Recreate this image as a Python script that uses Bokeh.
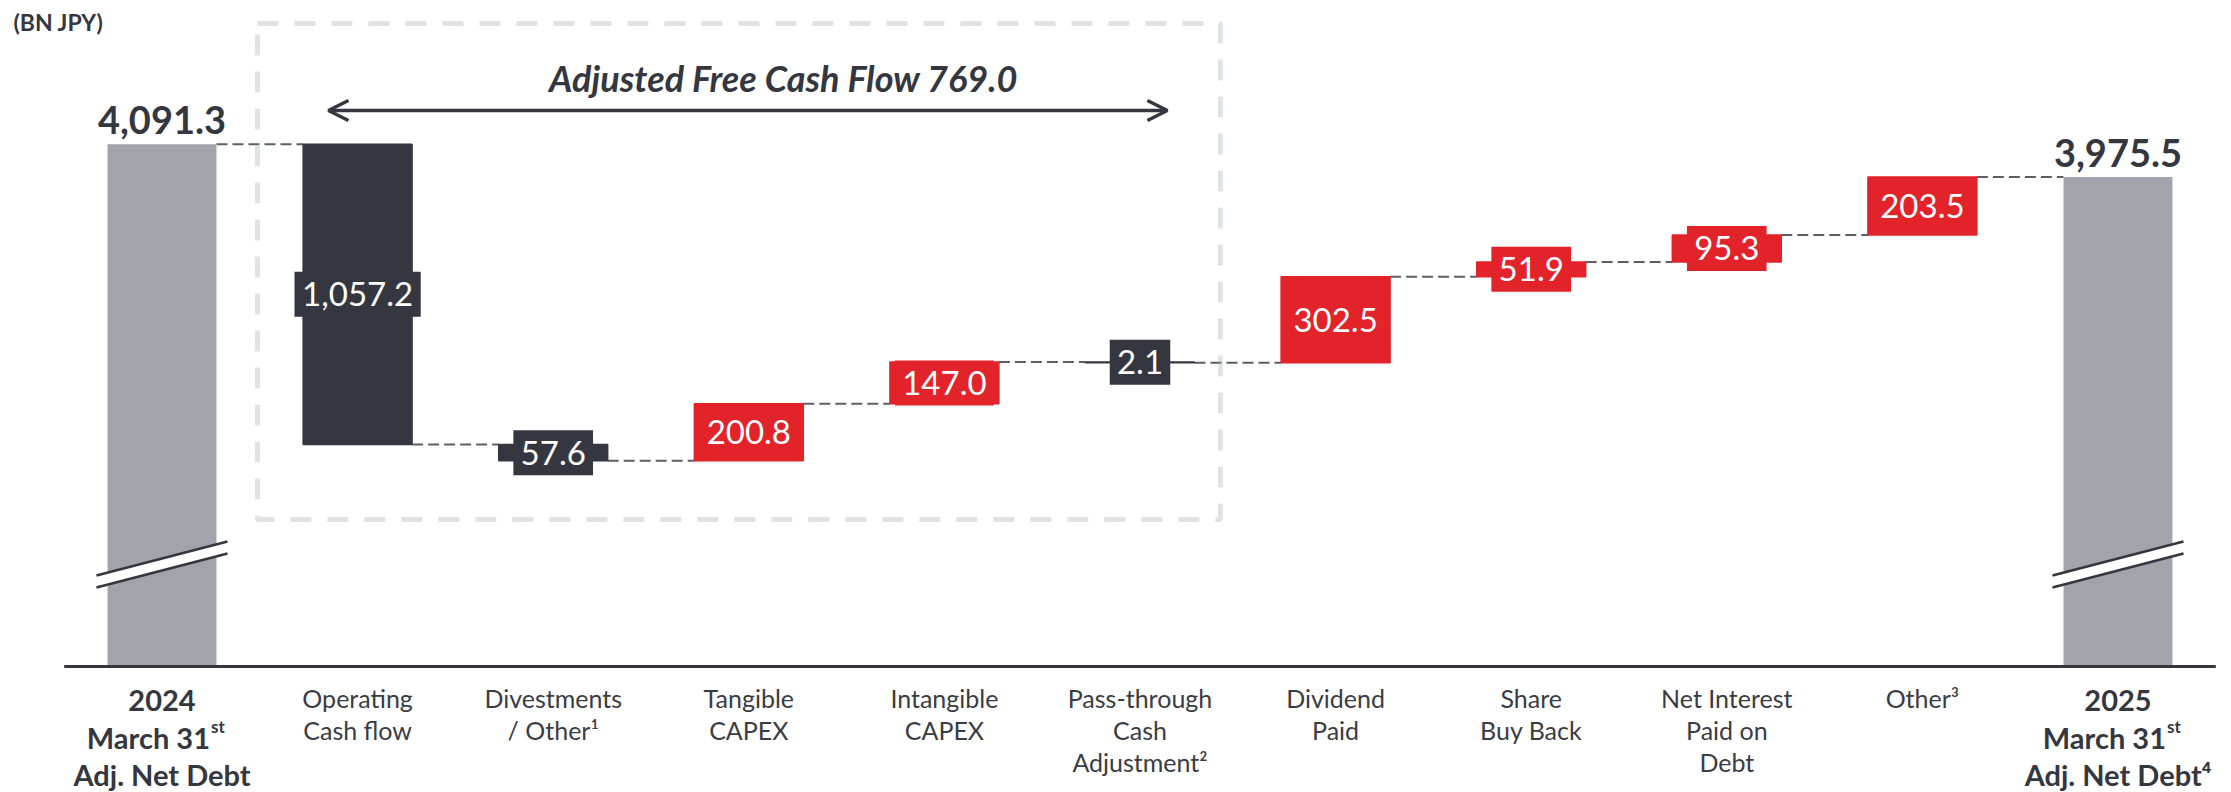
from bokeh.plotting import figure
from bokeh.models import Range1d, Label, BoxAnnotation, Arrow, OpenHead, ColumnDataSource
from bokeh.embed import file_html
from bokeh.resources import INLINE
from bokeh.core.properties import value

# ---------------- data ----------------
unit_label = "(BN JPY)"
start_label_lines = ["2024", "March 31", "Adj. Net Debt"]
end_label_lines = ["2025", "March 31", "Adj. Net Debt\u2074"]
date_suffix = "st"
step_names = [
    ["Operating", "Cash flow"],
    ["Divestments", "/ Other\u00b9"],
    ["Tangible", "CAPEX"],
    ["Intangible", "CAPEX"],
    ["Pass-through", "Cash", "Adjustment\u00b2"],
    ["Dividend", "Paid"],
    ["Share", "Buy Back"],
    ["Net Interest", "Paid on", "Debt"],
    ["Other\u00b3"],
]
start_value = 4091.3
end_value = 3975.5
step_values = [-1057.2, -57.6, 200.8, 147.0, -2.1, 302.5, 51.9, 95.3, 203.5]
fcf_value = 769.0
fcf_title = "Adjusted Free Cash Flow"

# ---------------- layout ----------------
W, H = 2231, 792
PX_X = 195.6            # px per category
PX_Y = 0.284            # px per BN JPY
X0 = -161.5 / PX_X
Y_TOP = 4597.3
Y_BOT = Y_TOP - H / PX_Y


def ydat(py):
    return Y_TOP - py / PX_Y


def xdat(px):
    return X0 + px / PX_X


BASE = ydat(666)        # axis line (broken axis)
BAR_W = 0.557

GRAY = "#a2a4ab"
DARK = "#353740"
RED = "#e2232a"
TXT = "#3a3c44"
BOXC = "#9c9ea5"
CONN = "#5d5f66"
FONT = "Lato"
VAL_SIZE = 33

p = figure(width=W, height=H, x_range=Range1d(X0, X0 + W / PX_X),
           y_range=Range1d(Y_BOT, Y_TOP), output_backend="svg",
           toolbar_location=None, min_border=0,
           x_axis_location=None, y_axis_location=None)
p.grid.visible = False
p.outline_line_color = None
p.background_fill_color = "white"
p.border_fill_color = "white"

n = len(step_values)
last = n + 1

# running totals
levels = [start_value]
for s in step_values:
    levels.append(levels[-1] + s)

# connectors
cx0 = [k + BAR_W / 2 for k in range(n + 1)]
cx1 = [k + 1 - BAR_W / 2 for k in range(n + 1)]
p.segment(x0=cx0, x1=cx1, y0=levels, y1=levels, line_color=CONN,
          line_width=2, line_dash="11 5")

# total bars
p.vbar(x=[0, last], bottom=BASE, top=[start_value, end_value], width=BAR_W,
       fill_color=GRAY, line_color=None)

# axis break marks
BRK = ydat(564)
HALF = 0.335
SL = 60.0
GAP = 21.0
for cx in (0, last):
    p.patch([cx - HALF, cx + HALF, cx + HALF, cx - HALF],
            [BRK - SL + GAP, BRK + SL + GAP, BRK + SL - GAP, BRK - SL - GAP],
            fill_color="white", line_color=None)
    p.multi_line([[cx - HALF, cx + HALF], [cx - HALF, cx + HALF]],
                 [[BRK - SL + GAP, BRK + SL + GAP], [BRK - SL - GAP, BRK + SL - GAP]],
                 line_color=DARK, line_width=2.5)

# step bars
sx = list(range(1, n + 1))
bottoms = [min(levels[i], levels[i + 1]) for i in range(n)]
tops = [max(levels[i], levels[i + 1]) for i in range(n)]
mids = [(b + t) / 2 for b, t in zip(bottoms, tops)]
cols = [DARK if s < 0 else RED for s in step_values]
texts = [f"{abs(s):,.1f}" for s in step_values]


def text_w(t):
    return sum(0.58 * VAL_SIZE if ch.isdigit() else 0.25 * VAL_SIZE for ch in t)


box_w = [text_w(t) + 14 for t in texts]
src = ColumnDataSource(dict(x=sx, bottom=bottoms, top=tops, mid=mids,
                            color=cols, text=texts, bw=box_w))
p.vbar(x="x", bottom="bottom", top="top", width=BAR_W, source=src,
       fill_color="color", line_color="color", line_width=1.5)

# value label boxes and texts
p.rect(x="x", y="mid", width="bw", height=45, width_units="screen",
       height_units="screen", source=src, fill_color="color", line_color=None)
p.text(x="x", y="mid", text="text", source=src, text_align="center",
       text_baseline="middle", text_color="white", text_font=value(FONT),
       text_font_size=f"{VAL_SIZE}px")

# axis line
p.segment(x0=[-0.5], x1=[last + 0.5], y0=[BASE], y1=[BASE],
          line_color=DARK, line_width=3)

# total value labels
p.text(x=[0, last], y=[start_value, end_value],
       text=[f"{start_value:,.1f}", f"{end_value:,.1f}"],
       text_align="center", text_baseline="alphabetic", y_offset=-24,
       text_font=value(FONT), text_font_style="bold", text_font_size="38px",
       text_color=DARK)

# category labels (regular)
rx, rt, ro = [], [], []
for i, lines in enumerate(step_names):
    for j, t in enumerate(lines):
        rx.append(i + 1)
        rt.append(t)
        ro.append(31 + 32 * j)
p.text(x=rx, y=[BASE] * len(rx), text=rt, y_offset=ro, text_align="center",
       text_baseline="alphabetic", text_font=value(FONT),
       text_font_size="25px", text_color=TXT)

# category labels (bold totals)
bx, bt, bo, bxo, ba = [], [], [], [], []
for cx, lines in ((0, start_label_lines), (last, end_label_lines)):
    for j, t in enumerate(lines):
        bx.append(cx)
        bt.append(t)
        bo.append(34 + 37 * j)
        if j == 1:
            bxo.append(48)
            ba.append("right")
        else:
            bxo.append(0)
            ba.append("center")
bsrc = ColumnDataSource(dict(x=bx, y=[BASE] * len(bx), text=bt, yo=bo, xo=bxo, align=ba))
p.text(x="x", y="y", text="text", y_offset="yo", x_offset="xo", text_align="align",
       source=bsrc, text_baseline="alphabetic", text_font=value(FONT),
       text_font_style="bold", text_font_size="29px", text_color=DARK)
p.text(x=[0, last], y=[BASE, BASE], text=[date_suffix, date_suffix],
       x_offset=49, y_offset=34 + 37 - 11, text_align="left",
       text_baseline="alphabetic", text_font=value(FONT),
       text_font_style="bold", text_font_size="17px", text_color=DARK)

# unit label
p.add_layout(Label(x=xdat(13), y=ydat(21), text=unit_label, text_font=FONT,
                   text_font_style="bold", text_font_size="23px",
                   text_color=DARK, text_baseline="alphabetic"))

# Adjusted FCF box, arrow and title
p.add_layout(BoxAnnotation(left=0.488, right=5.411, top=ydat(23), bottom=ydat(519),
                           fill_alpha=0, fill_color=None, line_color=BOXC,
                           line_width=5, line_dash="21 16"))
ay = ydat(110)
p.add_layout(Arrow(x_start=0.851, x_end=5.14, y_start=ay, y_end=ay,
                   line_color=DARK, line_width=3.5,
                   start=OpenHead(size=20, line_width=3.5, line_color=DARK),
                   end=OpenHead(size=20, line_width=3.5, line_color=DARK)))
p.text(x=[3.178], y=[ydat(77)], text=[f"{fcf_title} {fcf_value:,.1f}"],
       text_align="center", text_baseline="alphabetic", text_font=value(FONT),
       text_font_style="bold italic", text_font_size="36px", text_color=DARK)

open("out.html", "w").write(file_html(p, INLINE))
